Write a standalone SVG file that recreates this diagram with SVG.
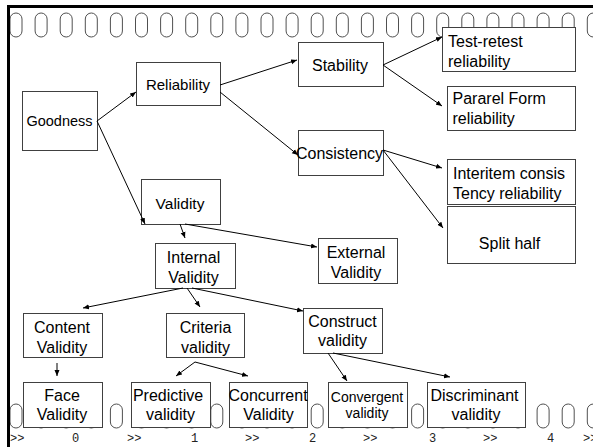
<svg xmlns="http://www.w3.org/2000/svg" width="593" height="447" viewBox="0 0 593 447">
<style>
.hole{fill:none;stroke:#505050;stroke-width:1}
.box{fill:#fff;stroke:#404040;stroke-width:1}
.t{font-family:"Liberation Sans",Arial,sans-serif;font-size:16px;fill:#000;text-anchor:middle}
.l{text-anchor:start}
.m{font-family:"Liberation Mono","Courier New",monospace;font-size:12px;fill:#222}
.c{stroke:#000;stroke-width:1;fill:none;marker-end:url(#ah)}
</style>
<defs>
<marker id="ah" markerUnits="userSpaceOnUse" markerWidth="7" markerHeight="6" refX="6" refY="3" orient="auto">
<path d="M0,0.5 L6,3 L0,5.5 Z" fill="#000"/>
</marker>
<rect id="h" x="0" y="0" width="12" height="24" rx="6" ry="6" class="hole"/>
</defs>
<rect width="593" height="447" fill="#fff"/>
<g id="holes-top">
<use href="#h" x="10" y="13"/><use href="#h" x="35.1" y="13"/><use href="#h" x="60.2" y="13"/><use href="#h" x="85.3" y="13"/><use href="#h" x="110.4" y="13"/><use href="#h" x="135.5" y="13"/><use href="#h" x="160.6" y="13"/><use href="#h" x="185.7" y="13"/><use href="#h" x="210.8" y="13"/><use href="#h" x="235.9" y="13"/><use href="#h" x="261" y="13"/><use href="#h" x="286.1" y="13"/><use href="#h" x="311.2" y="13"/><use href="#h" x="336.3" y="13"/><use href="#h" x="361.4" y="13"/><use href="#h" x="386.5" y="13"/><use href="#h" x="411.6" y="13"/><use href="#h" x="436.7" y="13"/><use href="#h" x="461.8" y="13"/><use href="#h" x="486.9" y="13"/><use href="#h" x="512" y="13"/><use href="#h" x="537.1" y="13"/><use href="#h" x="562.2" y="13"/><use href="#h" x="587.3" y="13"/>
</g>
<g id="holes-bottom">
<use href="#h" x="10" y="404"/><use href="#h" x="35.1" y="404"/><use href="#h" x="60.2" y="404"/><use href="#h" x="85.3" y="404"/><use href="#h" x="110.4" y="404"/><use href="#h" x="135.5" y="404"/><use href="#h" x="160.6" y="404"/><use href="#h" x="185.7" y="404"/><use href="#h" x="210.8" y="404"/><use href="#h" x="235.9" y="404"/><use href="#h" x="261" y="404"/><use href="#h" x="286.1" y="404"/><use href="#h" x="311.2" y="404"/><use href="#h" x="336.3" y="404"/><use href="#h" x="361.4" y="404"/><use href="#h" x="386.5" y="404"/><use href="#h" x="411.6" y="404"/><use href="#h" x="436.7" y="404"/><use href="#h" x="461.8" y="404"/><use href="#h" x="486.9" y="404"/><use href="#h" x="512" y="404"/><use href="#h" x="537.1" y="404"/><use href="#h" x="562.2" y="404"/><use href="#h" x="587.3" y="404"/>
</g>
<g id="frame">
<line x1="7" y1="6.5" x2="593" y2="6.5" stroke="#000" stroke-width="3"/>
<line x1="8.5" y1="5" x2="8.5" y2="447" stroke="#000" stroke-width="3"/>
</g>
<g id="goodness"><rect class="box" x="22.5" y="91.5" width="75" height="59"/><text class="t" x="59.5" y="126" style="font-size:14.5px">Goodness</text></g>
<g id="reliability"><rect class="box" x="136.5" y="62.5" width="84" height="43"/><text class="t" x="178" y="89.5" style="font-size:15px">Reliability</text></g>
<g id="validity"><rect class="box" x="141.5" y="179.5" width="79" height="45"/><text class="t" x="180" y="208.5" style="font-size:15.5px">Validity</text></g>
<g id="stability"><rect class="box" x="298.5" y="42.5" width="85" height="44"/><text class="t" x="340" y="70.5">Stability</text></g>
<g id="consistency"><rect class="box" x="298.5" y="130.5" width="85" height="45"/><text class="t" x="339.5" y="159">Consistency</text></g>
<g id="test-retest"><rect class="box" x="442.5" y="27.5" width="133" height="44"/><text class="t l" x="448" y="46.5">Test-retest</text><text class="t l" x="448" y="66.5">reliability</text></g>
<g id="pararel"><rect class="box" x="447.5" y="86.5" width="128" height="44"/><text class="t l" x="452.5" y="104">Pararel Form</text><text class="t l" x="452.5" y="124">reliability</text></g>
<g id="interitem"><rect class="box" x="447.5" y="159.5" width="128" height="45"/><text class="t l" x="453" y="179">Interitem consis</text><text class="t l" x="453" y="199">Tency reliability</text></g>
<g id="split-half"><rect class="box" x="447.5" y="206.5" width="128" height="57"/><text class="t" x="509.5" y="248.5">Split half</text></g>
<g id="internal"><rect class="box" x="155.5" y="243.5" width="80" height="45"/><text class="t" x="193.5" y="262.5">Internal</text><text class="t" x="193.5" y="282.5">Validity</text></g>
<g id="external"><rect class="box" x="318.5" y="238.5" width="79" height="45"/><text class="t" x="356" y="257.5">External</text><text class="t" x="356" y="277.5">Validity</text></g>
<g id="content"><rect class="box" x="23.5" y="313.5" width="79" height="44"/><text class="t" x="62" y="332.5">Content</text><text class="t" x="62" y="352.5">Validity</text></g>
<g id="criteria"><rect class="box" x="166.5" y="313.5" width="78" height="44"/><text class="t" x="205.5" y="332.5">Criteria</text><text class="t" x="205.5" y="352.5">validity</text></g>
<g id="construct"><rect class="box" x="303.5" y="308.5" width="79" height="45"/><text class="t" x="342.5" y="326.5">Construct</text><text class="t" x="342.5" y="345.5">validity</text></g>
<g id="face"><rect class="box" x="23.5" y="382.5" width="79" height="45"/><text class="t" x="62" y="400.5">Face</text><text class="t" x="62" y="419.5">Validity</text></g>
<g id="predictive"><rect class="box" x="131.5" y="382.5" width="79" height="45"/><text class="t" x="168" y="400.5">Predictive</text><text class="t" x="170.5" y="419.5">validity</text></g>
<g id="concurrent"><rect class="box" x="229.5" y="382.5" width="78" height="45"/><text class="t" x="268" y="400.5">Concurrent</text><text class="t" x="268.5" y="419.5">Validity</text></g>
<g id="convergent"><rect class="box" x="328.5" y="382.5" width="79" height="45"/><text class="t" x="367" y="401.5" style="font-size:14px">Convergent</text><text class="t" x="367" y="418" style="font-size:14px">validity</text></g>
<g id="discriminant"><rect class="box" x="427.5" y="382.5" width="98" height="45"/><text class="t" x="474.5" y="400.5">Discriminant</text><text class="t" x="476" y="419.5">validity</text></g>
<g id="connectors">
<line class="c" x1="97" y1="121" x2="136" y2="92"/>
<line class="c" x1="97" y1="121" x2="145" y2="224"/>
<line class="c" x1="220" y1="85" x2="297" y2="60"/>
<line class="c" x1="220" y1="92" x2="298" y2="155"/>
<line class="c" x1="383" y1="65" x2="442" y2="37"/>
<line class="c" x1="383" y1="65" x2="442" y2="106"/>
<line class="c" x1="383" y1="150" x2="442" y2="168"/>
<line class="c" x1="383" y1="150" x2="443" y2="228"/>
<line class="c" x1="180" y1="224" x2="185" y2="238"/>
<line class="c" x1="185" y1="224" x2="317" y2="247"/>
<line class="c" x1="183" y1="288" x2="83" y2="308"/>
<line class="c" x1="187" y1="288" x2="200" y2="307"/>
<line class="c" x1="192" y1="288" x2="303" y2="311"/>
<line class="c" x1="57" y1="363" x2="57" y2="376"/>
<line class="c" x1="195" y1="362" x2="176" y2="376"/>
<line class="c" x1="195" y1="362" x2="248" y2="376"/>
<line class="c" x1="328" y1="353" x2="347" y2="381"/>
<line class="c" x1="333" y1="353" x2="450" y2="377"/>
</g>
<g id="ruler">
<text class="m" x="10" y="442">&gt;&gt;</text><text class="m" x="72" y="442">0</text>
<text class="m" x="127" y="442">&gt;&gt;</text><text class="m" x="191" y="442">1</text>
<text class="m" x="245" y="442">&gt;&gt;</text><text class="m" x="309" y="442">2</text>
<text class="m" x="363" y="442">&gt;&gt;</text><text class="m" x="429" y="442">3</text>
<text class="m" x="483" y="442">&gt;&gt;</text><text class="m" x="547" y="442">4</text>
<text class="m" x="583" y="442">&gt;&gt;</text>
</g>
</svg>
